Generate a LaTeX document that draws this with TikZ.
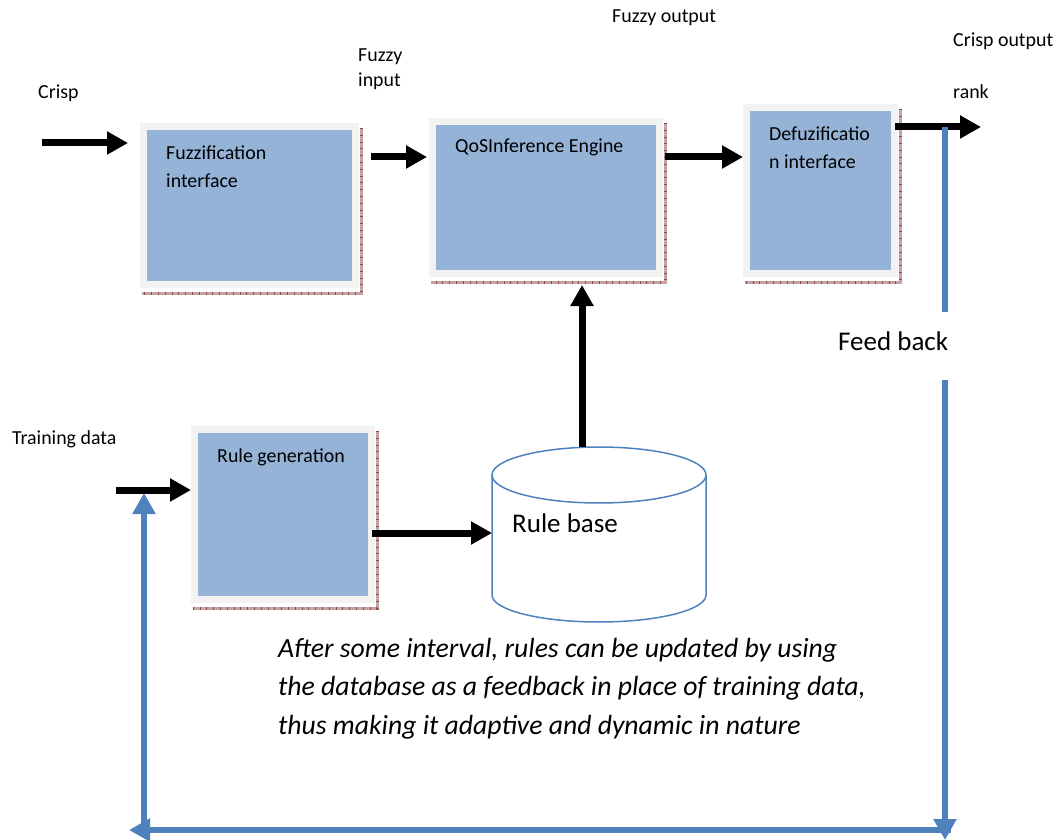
\documentclass[tikz,border=0pt]{standalone}
\usepackage{fontspec}
\setmainfont{Carlito}
\usepackage{tikz}
\usetikzlibrary{arrows.meta,positioning}

\definecolor{boxblue}{HTML}{95B3D7}
\definecolor{framegray}{HTML}{F2F2F2}
\definecolor{fbblue}{HTML}{4F81BD}
\definecolor{shadowpink}{HTML}{C6A3A3}
\definecolor{shadowdark}{HTML}{8A4A4A}

\tikzset{
  block/.style={fill=boxblue, draw=framegray, line width=7pt, inner sep=0pt},
  boxshadow/.style={draw=shadowpink, line width=3pt,
    postaction={draw=shadowdark, line width=3pt, dash pattern=on 0.8pt off 6pt}},
  lbl/.style={font=\fontsize{19.9}{28}\selectfont, inner sep=0pt, anchor=base west, align=left},
  biglbl/.style={font=\fontsize{27}{39}\selectfont, inner sep=0pt, anchor=base west, align=left},
  flow/.style={line width=7pt, -{Triangle[width=22pt,length=21pt]}},
  fbline/.style={draw=fbblue, line width=6pt},
  fbarrow/.style={fbline, fbblue, -{Triangle[width=22pt,length=21pt]}},
  dbline/.style={draw=fbblue, line width=1.5pt}
}

\begin{document}
\begin{tikzpicture}[x=1pt, y=-1pt]
    \useasboundingbox (0,0) rectangle (1058,840);

    % the four blocks
    \node[block, minimum width=212pt, minimum height=158pt] (fuzz) at (249.5,205.5) {};
    \node[block, minimum width=227pt, minimum height=152pt] (qos) at (546,197.5) {};
    \node[block, minimum width=148pt, minimum height=166pt] (defuz) at (820.5,190.5) {};
    \node[block, minimum width=177pt, minimum height=170pt] (rulegen) at (283,514.5) {};
    \draw[boxshadow] ([shift={(2pt,-5pt)}]fuzz.north east) |- ([shift={(2pt,-5pt)}]fuzz.south west);
    \draw[boxshadow] ([shift={(2pt,-5pt)}]qos.north east) |- ([shift={(2pt,-5pt)}]qos.south west);
    \draw[boxshadow] ([shift={(2pt,-5pt)}]defuz.north east) |- ([shift={(2pt,-5pt)}]defuz.south west);
    \draw[boxshadow] ([shift={(2pt,-5pt)}]rulegen.north east) |- ([shift={(2pt,-5pt)}]rulegen.south west);

    % (two-line labels sit on the baseline of their last line)
    \node[lbl] (fuzztext) at ([shift={(26pt,-64pt)}]fuzz.north west) {Fuzzification\\interface};
    \node[lbl] (qostext) at ([shift={(26pt,-35pt)}]qos.north west) {QoSInference Engine};
    \node[lbl] (defuztext) at ([shift={(26pt,-64pt)}]defuz.north west) {Defuzificatio\\n interface};
    \node[lbl] (rulegentext) at ([shift={(26pt,-36pt)}]rulegen.north west) {Rule generation};

    % rule base cylinder
    \node[minimum width=214pt, minimum height=175pt, inner sep=0pt, outer sep=0pt] (rbase) at (599,534.5) {};
    \draw[dbline] ([yshift=-28pt]rbase.north) ellipse [x radius=107pt, y radius=28pt];
    \draw[dbline] ([yshift=-28pt]rbase.north west) -- ([yshift=27pt]rbase.south west)
        arc[start angle=180, end angle=360, x radius=107pt, y radius=27pt]
        -- ([yshift=-28pt]rbase.north east);
    \node[biglbl] (rbasetext) at ([shift={(20pt,2.5pt)}]rbase.west) {Rule base};

    % outside labels
    \node[lbl] (crisp) at (38,99) {Crisp};
    \node[lbl, font=\fontsize{19.9}{25}\selectfont] (fuzzyin) at (358,87) {Fuzzy\\input};
    \node[lbl] (fuzzyout) at (612,23) {Fuzzy output};
    \node[lbl] (crispout) at (953,47) {Crisp output};
    \node[lbl] (rank) at (953,99) {rank};
    \node[lbl] (training) at (12,444) {Training data};
    \node[biglbl] (feedback) at (838,350) {Feed back};
    \node[biglbl, font=\fontsize{27.7}{38.5}\selectfont\itshape] (note) at (278,734)
        {After some interval, rules can be updated by using\\the database as a feedback in place of training data,\\thus making it adaptive and dynamic in nature};

    % main flow
    \coordinate (crispin) at (42,143);
    \coordinate (fuzzout) at ([yshift=48.5pt]fuzz.east);
    \coordinate (qosout) at ([yshift=40.5pt]qos.east);
    \coordinate (defout) at ([yshift=63.5pt]defuz.east);
    \coordinate (rankout) at (981,127);
    \coordinate (trainin) at (116,490);
    \coordinate (rgout) at ([yshift=-18.5pt]rulegen.east);
    \coordinate (rbtop) at ([xshift=-17pt]rbase.north);

    \draw[flow, shorten >=12pt] (crispin) -- (crispin -| fuzz.west);
    \draw[flow, shorten <=12pt, shorten >=2pt] (fuzzout) -- (fuzzout -| qos.west);
    \draw[flow, shorten <=2pt] (qosout) -- (qosout -| defuz.west);
    \draw[flow, shorten <=-3pt] (defout) -- (rankout);
    \draw[flow] (trainin) -- (trainin -| rulegen.west);
    \draw[flow, shorten <=-3pt] (rgout) -- (rgout -| rbase.west);
    \draw[flow, shorten >=8pt] (rbtop) -- (rbtop |- qos.south);

    % feedback loop
    \coordinate (fbtop) at (945,127);
    \coordinate (fbgapa) at (945,312);
    \coordinate (fbgapb) at (945,380);
    \coordinate (fbend) at (945,840);
    \coordinate (fbright) at (951,830);
    \coordinate (fbleft) at (129,830);
    \coordinate (fbcorner) at (144,830);
    \coordinate (fbup) at (144,493);
    \draw[fbline] (fbtop) -- (fbgapa);
    \draw[fbarrow] (fbgapb) -- (fbend);
    \draw[fbarrow] (fbright) -- (fbleft);
    \draw[fbarrow] (fbcorner) -- (fbup);
\end{tikzpicture}
\end{document}
